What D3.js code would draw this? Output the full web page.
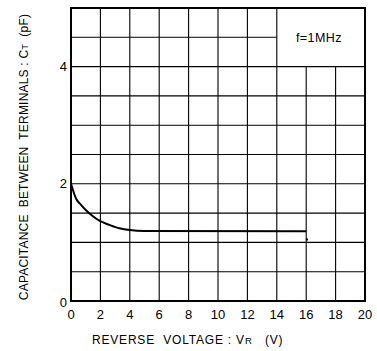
<!DOCTYPE html>
<html>
<head>
<meta charset="utf-8">
<script src="https://cdn.jsdelivr.net/npm/d3@7"></script>
<style>
  body { margin: 0; background: #fff; }
  text { font-family: "Liberation Sans", Arial, sans-serif; fill: #000; }
</style>
</head>
<body>
<div id="chart"></div>
<script>
// data
const curveV = [0, 0.34, 0.68, 1.02, 1.47, 1.93, 2.6, 3.3, 4.0, 5, 16];
const curveC = [2.0, 1.75, 1.64, 1.55, 1.45, 1.37, 1.30, 1.24, 1.21, 1.195, 1.19];
const markV = [16.05];
const markC = [1.05];
const xTicks = [0, 2, 4, 6, 8, 10, 12, 14, 16, 18, 20];
const yTicks = [0, 2, 4];
const yGrid = [0.5, 1, 1.5, 2, 2.5, 3, 3.5, 4, 4.5];
const xGrid = [2, 4, 6, 8, 10, 12, 14, 16, 18];

const FRAME_WIDTH = 377;
const FRAME_HEIGHT = 351;
const MARGINS = {left: 71, right: 12, top: 8, bottom: 50};
const VIS_WIDTH = FRAME_WIDTH - MARGINS.left - MARGINS.right;
const VIS_HEIGHT = FRAME_HEIGHT - MARGINS.top - MARGINS.bottom;

const FRAME = d3.select("#chart")
                .append("svg")
                  .attr("width", FRAME_WIDTH)
                  .attr("height", FRAME_HEIGHT);

const X_SCALE = d3.scaleLinear().domain([0, 20]).range([0, VIS_WIDTH]);
const Y_SCALE = d3.scaleLinear().domain([0, 5]).range([VIS_HEIGHT, 0]);

const plot = FRAME.append("g")
                  .attr("transform", "translate(" + MARGINS.left + "," + MARGINS.top + ")");

// grid, leaving the f=1MHz box (14..20, 4..5) empty
plot.selectAll(".vgrid")
    .data(xGrid)
    .enter()
    .append("line")
      .attr("x1", (d) => X_SCALE(d))
      .attr("x2", (d) => X_SCALE(d))
      .attr("y1", VIS_HEIGHT)
      .attr("y2", (d) => d > 14 ? Y_SCALE(4) : 0)
      .attr("stroke", "#000")
      .attr("stroke-width", 1.1);

plot.selectAll(".hgrid")
    .data(yGrid)
    .enter()
    .append("line")
      .attr("x1", 0)
      .attr("x2", (d) => d > 4 ? X_SCALE(14) : VIS_WIDTH)
      .attr("y1", (d) => Y_SCALE(d))
      .attr("y2", (d) => Y_SCALE(d))
      .attr("stroke", "#000")
      .attr("stroke-width", 1.1);

// frame
plot.append("rect")
    .attr("x", 0)
    .attr("y", 0)
    .attr("width", VIS_WIDTH)
    .attr("height", VIS_HEIGHT)
    .attr("fill", "none")
    .attr("stroke", "#000")
    .attr("stroke-width", 2);

// curve
const points = curveV.map((v, i) => [v, curveC[i]]);
plot.append("path")
    .datum(points)
    .attr("d", d3.line()
                 .x((d) => X_SCALE(d[0]))
                 .y((d) => Y_SCALE(d[1]))
                 .curve(d3.curveMonotoneX))
    .attr("fill", "none")
    .attr("stroke", "#000")
    .attr("stroke-width", 2);

plot.selectAll(".mark")
    .data(markV)
    .enter()
    .append("rect")
      .attr("x", (d) => X_SCALE(d) - 1)
      .attr("y", (d, i) => Y_SCALE(markC[i]) - 1)
      .attr("width", 2)
      .attr("height", 2)
      .attr("fill", "#000");

// tick labels
plot.selectAll(".xlab")
    .data(xTicks)
    .enter()
    .append("text")
      .attr("x", (d) => X_SCALE(d))
      .attr("y", VIS_HEIGHT + 18)
      .attr("text-anchor", "middle")
      .style("font-size", "13px")
      .text((d) => d);

plot.selectAll(".ylab")
    .data(yTicks)
    .enter()
    .append("text")
      .attr("x", -4)
      .attr("y", (d) => Y_SCALE(d) + (d === 0 ? 6 : 4.5))
      .attr("text-anchor", "end")
      .style("font-size", "13px")
      .text((d) => d);

// f=1MHz note
plot.append("text")
    .attr("x", X_SCALE(17) - 2)
    .attr("y", Y_SCALE(4.5) + 4.5)
    .attr("text-anchor", "middle")
    .style("font-size", "12.5px")
    .style("letter-spacing", "0.4px")
    .text("f=1MHz");

// x axis title
const xt = FRAME.append("text")
                .attr("x", 92)
                .attr("y", 344)
                .style("font-size", "12px")
                .style("letter-spacing", "0.8px")
                .style("white-space", "pre");
xt.append("tspan").text("REVERSE  VOLTAGE : V");
xt.append("tspan").style("font-size", "9.5px").text("R");
xt.append("tspan").text("   (V)");

// y axis title
const yt = FRAME.append("text")
                .attr("transform", "translate(28,157) rotate(-90)")
                .attr("text-anchor", "middle")
                .style("font-size", "12px")
                .style("letter-spacing", "0.2px")
                .style("white-space", "pre");
yt.append("tspan").text("CAPACITANCE  BETWEEN  TERMINALS : C");
yt.append("tspan").style("font-size", "9.5px").text("T");
yt.append("tspan").text("  (pF)");
</script>
</body>
</html>
